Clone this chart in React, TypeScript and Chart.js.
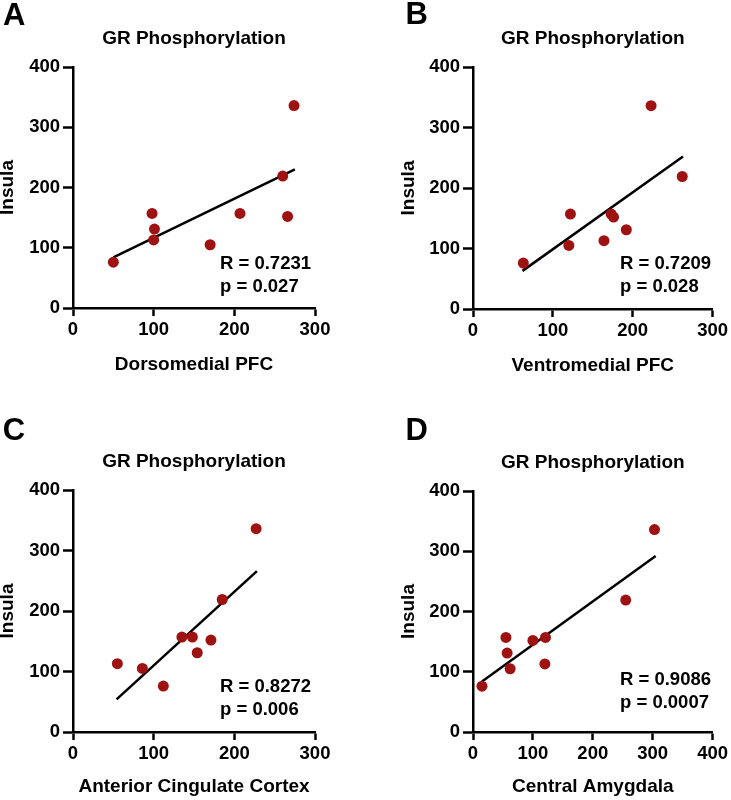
import React, { useEffect, useRef } from 'react';
import { Chart, registerables } from 'chart.js';

Chart.register(...registerables);

// ---- Data ----
const titleText = 'GR Phosphorylation';
const yAxisTitle = 'Insula';

const xTitles = ['Dorsomedial PFC', 'Ventromedial PFC', 'Anterior Cingulate Cortex', 'Central Amygdala'];
const panelLetters = ['A', 'B', 'C', 'D'];
const xMaxes = [300, 300, 300, 400];
const yMax = 400;
const tickStep = 100;

const dmpfcX = [50, 98, 101, 100, 170, 207, 260, 266, 274];
const dmpfcY = [76, 157, 131, 113, 105, 157, 219, 152, 336];
const vmpfcX = [63, 122, 120, 164, 173, 176, 192, 223, 262];
const vmpfcY = [76, 157, 105, 113, 157, 152, 131, 336, 219];
const accX = [55, 86, 112, 135, 148, 154, 171, 185, 227];
const accY = [113, 105, 76, 157, 157, 131, 152, 219, 336];
const ceaX = [15, 55, 57, 62, 100, 121, 120, 255, 303];
const ceaY = [76, 157, 131, 105, 152, 157, 113, 219, 336];

// fitted line end points [x0, x1], [y0, y1]
const dmpfcFitX = [50, 275];
const dmpfcFitY = [84, 230];
const vmpfcFitX = [62, 263];
const vmpfcFitY = [63, 252];
const accFitX = [54, 228];
const accFitY = [54, 266];
const ceaFitX = [15, 305];
const ceaFitY = [84, 292];

const rValues = ['0.7231', '0.7209', '0.8272', '0.9086'];
const pValues = ['0.027', '0.028', '0.006', '0.0007'];

const seriesX = [dmpfcX, vmpfcX, accX, ceaX];
const seriesY = [dmpfcY, vmpfcY, accY, ceaY];
const fitX = [dmpfcFitX, vmpfcFitX, accFitX, ceaFitX];
const fitY = [dmpfcFitY, vmpfcFitY, accFitY, ceaFitY];

// ---- Layout (pixels) ----
type Layout = {
  left: number; top: number; w: number; h: number;
  L: number; T: number; R: number; B: number;
  xTitleFromBottom: number; yTitleCenter: number;
  letterX: number; letterY: number; statsUp: number;
};

const layouts: Layout[] = [
  { left: 0, top: 0, w: 365, h: 400, L: 73, T: 67, R: 315, B: 308, xTitleFromBottom: 35.3, yTitleCenter: 7.8, letterX: 3, letterY: 25, statsUp: 44 },
  { left: 365, top: 0, w: 366, h: 400, L: 108, T: 67, R: 350, B: 309, xTitleFromBottom: 34.5, yTitleCenter: 44, letterX: 40.5, letterY: 23.5, statsUp: 45 },
  { left: 0, top: 400, w: 365, h: 400, L: 73, T: 90, R: 315, B: 332, xTitleFromBottom: 13, yTitleCenter: 7.8, letterX: 2.7, letterY: 39.5, statsUp: 45 },
  { left: 365, top: 400, w: 366, h: 400, L: 108, T: 91, R: 350, B: 332, xTitleFromBottom: 13.5, yTitleCenter: 44, letterX: 40.5, letterY: 39.5, statsUp: 52 },
];

const FONT = "'Liberation Sans', Arial, Helvetica, sans-serif";
const POINT_COLOR = '#9E1212';
const TICK_SIZE = 18.5;
const LABEL_SIZE = 19;

function Panel({ idx }: { idx: number }) {
  const ref = useRef<HTMLCanvasElement | null>(null);
  const lay = layouts[idx];

  useEffect(() => {
    if (!ref.current) return;
    const pts = seriesX[idx].map((x, i) => ({ x, y: seriesY[idx][i] }));
    const line = fitX[idx].map((x, i) => ({ x, y: fitY[idx][i] }));

    const textPlugin = {
      id: 'panelText',
      afterDraw(chart: any) {
        const ctx = chart.ctx;
        const ca = chart.chartArea;
        ctx.save();
        ctx.fillStyle = '#000';
        // panel letter
        ctx.font = `bold 31px ${FONT}`;
        ctx.textAlign = 'left';
        ctx.textBaseline = 'alphabetic';
        ctx.fillText(panelLetters[idx], lay.letterX, lay.letterY);
        // title
        ctx.font = `bold ${LABEL_SIZE}px ${FONT}`;
        ctx.textAlign = 'center';
        ctx.textBaseline = 'middle';
        ctx.fillText(titleText, (ca.left + ca.right) / 2, ca.top - 28.5);
        // stats
        ctx.font = `bold 18.5px ${FONT}`;
        ctx.textAlign = 'left';
        ctx.fillText(`R = ${rValues[idx]}`, ca.left + 147, ca.bottom - lay.statsUp);
        ctx.fillText(`p = ${pValues[idx]}`, ca.left + 147, ca.bottom - lay.statsUp + 23);
        ctx.restore();
      },
    };

    const chart = new Chart(ref.current, {
      type: 'scatter',
      data: {
        datasets: [
          {
            data: pts,
            backgroundColor: POINT_COLOR,
            borderColor: POINT_COLOR,
            pointRadius: 5.5,
            pointBorderWidth: 0,
            showLine: false,
          },
          {
            data: line,
            showLine: true,
            borderColor: '#000',
            borderWidth: 2.5,
            pointRadius: 0,
            fill: false,
          },
        ],
      },
      options: {
        animation: false,
        responsive: false,
        devicePixelRatio: 1,
        layout: { padding: { left: 0, top: lay.T, right: lay.w - lay.R, bottom: 0 } },
        plugins: { legend: { display: false }, tooltip: { enabled: false }, title: { display: false } },
        scales: {
          x: {
            type: 'linear',
            min: 0,
            max: xMaxes[idx],
            afterFit: (s: any) => { s.height = lay.h - lay.B; },
            border: { display: true, color: '#000', width: 2.5 },
            grid: { display: true, drawOnChartArea: false, drawTicks: true, tickLength: 8, tickWidth: 2.5, tickColor: '#000', color: '#000' },
            ticks: { stepSize: tickStep, padding: 3, color: '#000', font: { family: FONT, size: TICK_SIZE, weight: 'bold' } },
            title: {
              display: true,
              text: xTitles[idx],
              color: '#000',
              font: { family: FONT, size: LABEL_SIZE, weight: 'bold', lineHeight: 1 },
              padding: { top: 0, bottom: lay.xTitleFromBottom - LABEL_SIZE / 2 },
            },
          },
          y: {
            type: 'linear',
            min: 0,
            max: yMax,
            afterFit: (s: any) => { s.width = lay.L; },
            border: { display: true, color: '#000', width: 2.5 },
            grid: { display: true, drawOnChartArea: false, drawTicks: true, tickLength: 10, tickWidth: 2.5, tickColor: '#000', color: '#000' },
            ticks: { stepSize: tickStep, padding: 3, color: '#000', font: { family: FONT, size: TICK_SIZE, weight: 'bold' } },
            title: {
              display: true,
              text: yAxisTitle,
              color: '#000',
              font: { family: FONT, size: LABEL_SIZE, weight: 'bold', lineHeight: 0.8 },
              padding: { top: lay.yTitleCenter - LABEL_SIZE * 0.4, bottom: 0 },
            },
          },
        },
      } as any,
      plugins: [textPlugin],
    });
    return () => chart.destroy();
  }, [idx]);

  return (
    <canvas
      ref={ref}
      width={lay.w}
      height={lay.h}
      style={{ position: 'absolute', left: lay.left, top: lay.top, width: lay.w, height: lay.h }}
    />
  );
}

export default function App() {
  return (
    <div style={{ position: 'absolute', left: 0, top: 0, width: 731, height: 800, background: '#fff', overflow: 'hidden' }}>
      {[0, 1, 2, 3].map((i) => (
        <Panel key={i} idx={i} />
      ))}
    </div>
  );
}
